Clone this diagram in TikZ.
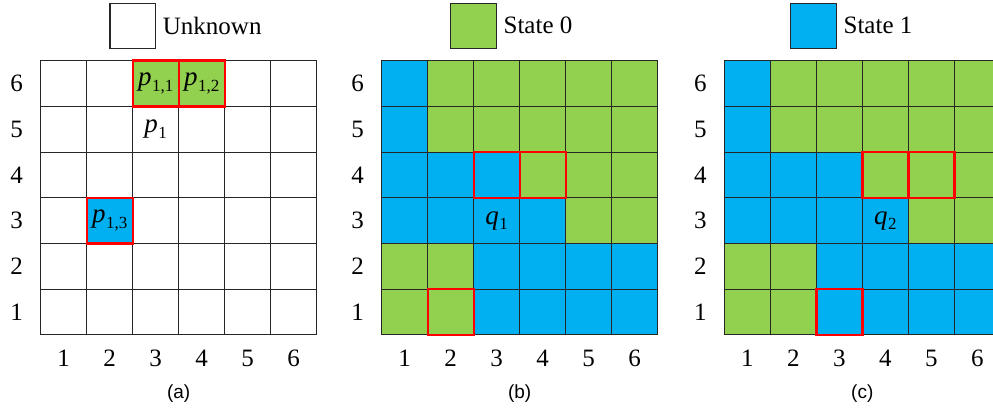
\documentclass[tikz,border=0pt]{standalone}
\usepackage{fontspec}
\setmainfont{Liberation Serif}
\newfontfamily\capfont{Liberation Sans}
\usetikzlibrary{positioning}
\definecolor{stateg}{HTML}{92D050}
\definecolor{stateb}{HTML}{00B0F0}
\definecolor{selred}{HTML}{FF0000}
\definecolor{gridline}{HTML}{262626}
\newcommand\biglab{\fontsize{25}{28}\selectfont}
\newcommand\capsize{\capfont\fontsize{19}{22}\selectfont}
\newcommand\mlab[2]{{\fontsize{27}{30}\selectfont\itshape #1}\kern0.5pt\raisebox{-0.22em}{\fontsize{17}{18}\selectfont #2}}
\newcommand\drawmygrid[3]{%
  \foreach \ri/\rowmap in {#3} {
    \foreach \s [count=\ci] in \rowmap {
      \node[cell, st-\s] (#1-\ci-\ri) at ({#2+(\ci-1)*46},{60.7+(6-\ri)*45.7}) {};
    }
  }
  \foreach \ri in {1,...,6} {
    \node[lab] (#1-row\ri) at ({#2-24},{60.7+(6.5-\ri)*45.7}) {\ri};
  }
  \foreach \ci in {1,...,6} {
    \node[lab] (#1-col\ci) at ({#2+(\ci-0.5)*46},358.3) {\ci};
  }
}
\begin{document}
\begin{tikzpicture}[x=1pt,y=-1pt,
  cell/.style={draw=gridline, line width=1pt, minimum width=46pt, minimum height=45.7pt,
    inner sep=0pt, outer sep=0pt, anchor=north west},
  st-u/.style={fill=white},
  st-g/.style={fill=stateg},
  st-b/.style={fill=stateb},
  legbox/.style={draw=gridline, line width=1.3pt, minimum width=45.7pt, minimum height=45pt,
    inner sep=0pt, outer sep=0pt, anchor=north west},
  lab/.style={font=\biglab, inner sep=0pt},
  mathlab/.style={font=\biglab, inner sep=0pt},
  caplab/.style={font=\capsize, inner sep=0pt},
  sel/.style={draw=selred, line width=2.4pt},
]
\useasboundingbox (0,0) rectangle (993,411);
\clip (0,0) rectangle (993,411);

% legend
\node[legbox, fill=white] (lu) at (110,3.3) {};
\node[lab, anchor=west, right=7pt of lu] (tu) {Unknown};
\node[legbox, fill=stateg] (l0) at (450.7,3.3) {};
\node[lab, anchor=west, right=7pt of l0] (t0) {State 0};
\node[legbox, fill=stateb] (l1) at (790.7,3.3) {};
\node[lab, anchor=west, right=7pt of l1] (t1) {State 1};

% grids
\drawmygrid{a}{40.7}{6/{u,u,g,g,u,u}, 5/{u,u,u,u,u,u}, 4/{u,u,u,u,u,u}, 3/{u,b,u,u,u,u}, 2/{u,u,u,u,u,u}, 1/{u,u,u,u,u,u}}
\drawmygrid{b}{381.7}{6/{b,g,g,g,g,g}, 5/{b,g,g,g,g,g}, 4/{b,b,b,g,g,g}, 3/{b,b,b,b,g,g}, 2/{g,g,b,b,b,b}, 1/{g,g,b,b,b,b}}
\drawmygrid{c}{724.3}{6/{b,g,g,g,g,g}, 5/{b,g,g,g,g,g}, 4/{b,b,b,g,g,g}, 3/{b,b,b,b,g,g}, 2/{g,g,b,b,b,b}, 1/{g,g,b,b,b,b}}

% selections
\draw[sel] (a-3-6.north west) rectangle (a-3-6.south east);
\draw[sel] (a-4-6.north west) rectangle (a-4-6.south east);
\draw[sel] (a-2-3.north west) rectangle (a-2-3.south east);
\draw[sel] (b-3-4.north west) rectangle (b-3-4.south east);
\draw[sel] (b-4-4.north west) rectangle (b-4-4.south east);
\draw[sel] (b-2-1.north west) rectangle (b-2-1.south east);
\draw[sel] (c-4-4.north west) rectangle (c-4-4.south east);
\draw[sel] (c-5-4.north west) rectangle (c-5-4.south east);
\draw[sel] (c-3-1.north west) rectangle (c-3-1.south east);

% cell labels
\node[mathlab] (p11) at (a-3-6) {\mlab{p}{1,1}};
\node[mathlab] (p12) at (a-4-6) {\mlab{p}{1,2}};
\node[mathlab] (p13) at (a-2-3) {\mlab{p}{1,3}};
\node[mathlab] (p1) at (a-3-5) {\mlab{p}{1}};
\node[mathlab] (q1) at (b-3-3) {\mlab{q}{1}};
\node[mathlab] (q2) at (c-4-3) {\mlab{q}{2}};

% captions
\node[caplab] (capa) at (178.7,394) {(a)};
\node[caplab] (capb) at (519.7,394) {(b)};
\node[caplab] (capc) at (862.3,394) {(c)};
\end{tikzpicture}
\end{document}
